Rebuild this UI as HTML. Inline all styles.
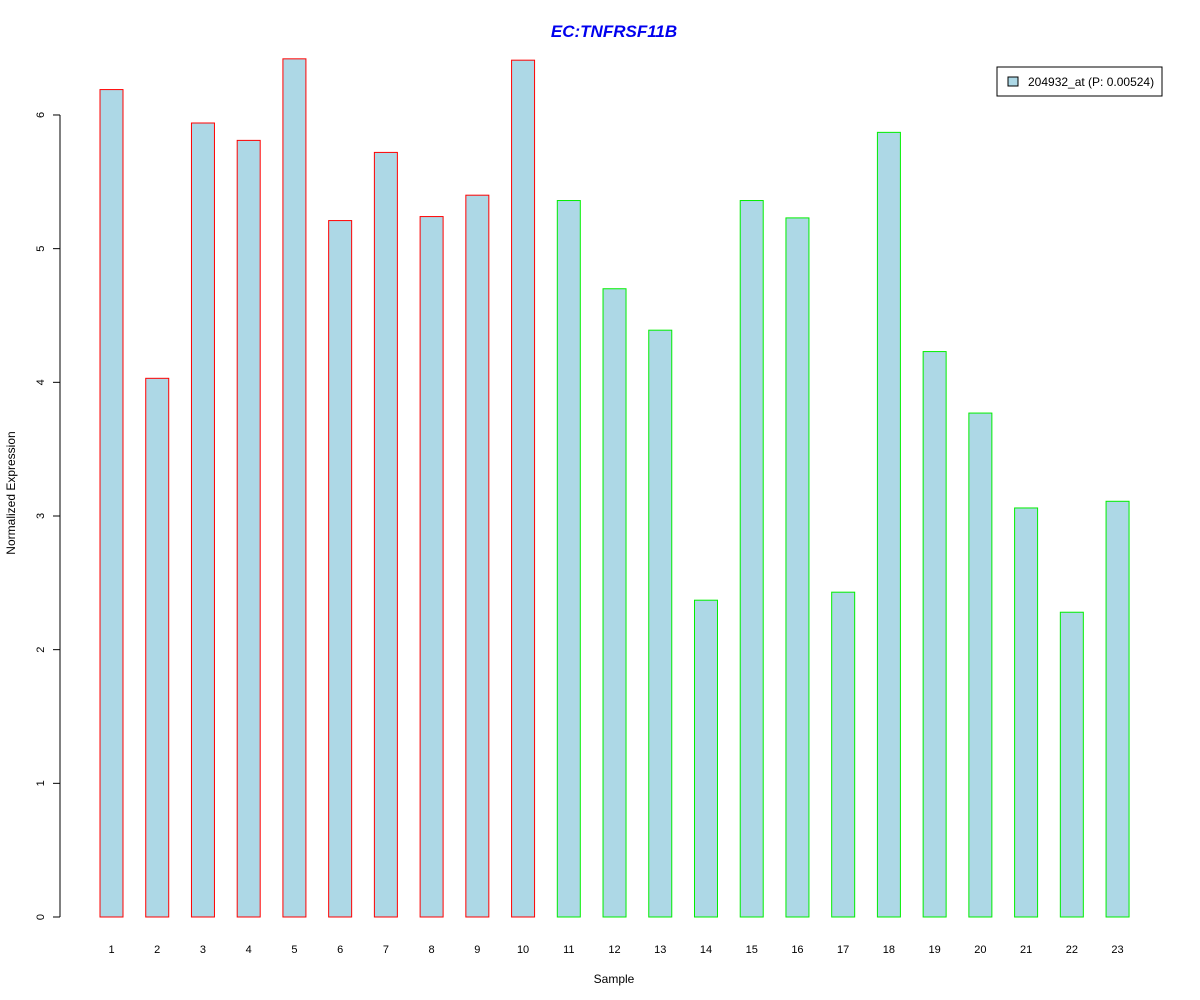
<!DOCTYPE html>
<html><head><meta charset="utf-8"><style>body{margin:0;background:#fff}svg{display:block;font-family:"Liberation Sans",Arial,sans-serif}</style></head>
<body>
<svg id="chart" width="1200" height="1000" viewBox="0 0 1200 1000">
<rect width="1200" height="1000" fill="#fff"/>
<text x="614" y="37" text-anchor="middle" font-size="17" font-weight="bold" font-style="italic" fill="#0000ee">EC:TNFRSF11B</text>
<g id="bars"></g><g id="yaxis"></g><g id="xlabels"></g>
<text x="614" y="983" text-anchor="middle" font-size="12">Sample</text>
<text transform="translate(15,493) rotate(-90)" text-anchor="middle" font-size="12">Normalized Expression</text>
<g>
<rect x="997" y="67" width="165" height="29" fill="#fff" stroke="#000"/>
<rect x="1008" y="77" width="10" height="9" fill="#add8e6" stroke="#000"/>
<text x="1028" y="86" font-size="12">204932_at (P: 0.00524)</text>
</g>
</svg>
<script>
const categories=["1","2","3","4","5","6","7","8","9","10","11","12","13","14","15","16","17","18","19","20","21","22","23"];
const values=[6.19,4.03,5.94,5.81,6.42,5.21,5.72,5.24,5.40,6.41,5.36,4.70,4.39,2.37,5.36,5.23,2.43,5.87,4.23,3.77,3.06,2.28,3.11];
const groups=["red","red","red","red","red","red","red","red","red","red","green","green","green","green","green","green","green","green","green","green","green","green","green"];
const yTicks=[0,1,2,3,4,5,6];
const NS="http://www.w3.org/2000/svg";
const y=v=>917-v*133.67;
const x=i=>111.5+i*45.73;
const colors={red:"#ff0000",green:"#00ee00"};
const bars=document.getElementById("bars"),xl=document.getElementById("xlabels"),ya=document.getElementById("yaxis");
function mk(t,a){const e=document.createElementNS(NS,t);for(const k in a)e.setAttribute(k,a[k]);return e;}
values.forEach((v,i)=>{
 const r=mk("rect",{x:x(i)-11.5,y:y(v),width:23,height:y(0)-y(v),fill:"#add8e6",stroke:colors[groups[i]]});
 
 
 bars.appendChild(r);
 const t=mk("text",{x:x(i),y:953,"text-anchor":"middle","font-size":"11"});t.textContent=categories[i];
 
 
 xl.appendChild(t);
});
const al=mk("line",{x1:60,x2:60,y1:y(0),y2:y(yTicks[yTicks.length-1]),stroke:"#000"});


ya.appendChild(al);
yTicks.forEach(v=>{
 const l=mk("line",{x1:53,x2:60,y1:y(v),y2:y(v),stroke:"#000"});
 
 
 ya.appendChild(l);
 const t=mk("text",{transform:`translate(44,${y(v)}) rotate(-90)`,"text-anchor":"middle","font-size":"11"});t.textContent=v;
 
 
 ya.appendChild(t);
});
</script>
</body></html>
